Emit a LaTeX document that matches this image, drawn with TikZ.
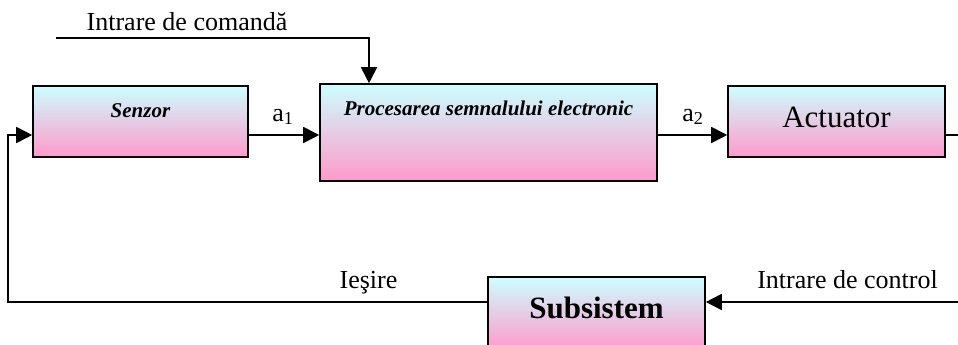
\documentclass[tikz,border=0pt]{standalone}
\usepackage{fontspec}
\setmainfont{Liberation Serif}
\usetikzlibrary{arrows.meta}
\definecolor{boxtop}{HTML}{CCFFFF}
\definecolor{boxbot}{HTML}{FF99CC}
\begin{document}
\begin{tikzpicture}[x=1pt,y=-1pt,
  blockbox/.style={draw, line width=1.6pt, top color=boxtop, bottom color=boxbot, inner sep=0pt},
  wire/.style={line width=1.8pt},
  flow/.style={wire, -{Triangle[length=16pt,width=16pt]}},
  lbl/.style={anchor=base, inner sep=0pt, font=\fontsize{26}{30}\selectfont},
  boxsmall/.style={anchor=base, inner sep=0pt, font=\fontsize{21}{25}\selectfont\bfseries\itshape},
  boxlarge/.style={anchor=base, inner sep=0pt, font=\fontsize{31}{36}\selectfont}]
\useasboundingbox (0,0) rectangle (958,345);

% blocks
\node[blockbox, minimum width=215pt, minimum height=71pt] (senzor) at (140.5,121.5) {};
\node[blockbox, minimum width=337pt, minimum height=97pt] (proc) at (488.5,132.5) {};
\node[blockbox, minimum width=217pt, minimum height=71pt] (act) at (836.5,121.5) {};
\node[blockbox, minimum width=217pt, minimum height=73pt] (sub) at (596.5,313.5) {};

% block captions
\node[boxsmall] (senzorT) at (140.5,117) {Senzor};
\node[boxsmall] (procT) at (488.5,115) {Procesarea semnalului electronic};
\node[boxlarge] (actT) at (836.5,127) {Actuator};
\node[boxlarge, font=\fontsize{31}{36}\selectfont\bfseries] (subT) at (596.5,318) {Subsistem};

% signal labels
\node[lbl] (cmdT) at (187,31) {Intrare de comandă};
\node[lbl] (a1T) at (283,121) {a\textsubscript{1}};
\node[lbl] (a2T) at (693,121) {a\textsubscript{2}};
\node[lbl] (outT) at (368.5,288) {Ieşire};
\node[lbl] (ctlT) at (847.5,288) {Intrare de control};

% helper points
\coordinate (row) at (0,135);
\coordinate (cmdStart) at (56,38);
\coordinate (cmdBend) at (369,38);
\coordinate (actOut) at (958,135);
\coordinate (ctlIn) at (958,302);
\coordinate (fbBend) at (8,302);

% connectors
\draw[flow] (cmdStart) -- (cmdBend) -- (cmdBend |- proc.north);
\draw[flow] (senzor.east |- row) -- (proc.west |- row);
\draw[flow] (proc.east |- row) -- (act.west |- row);
\draw[wire] (act.east |- row) -- (actOut);
\draw[flow] (ctlIn) -- (sub.east |- ctlIn);
\draw[flow] (sub.west |- ctlIn) -- (fbBend) |- (senzor.west |- row);
\end{tikzpicture}
\end{document}
